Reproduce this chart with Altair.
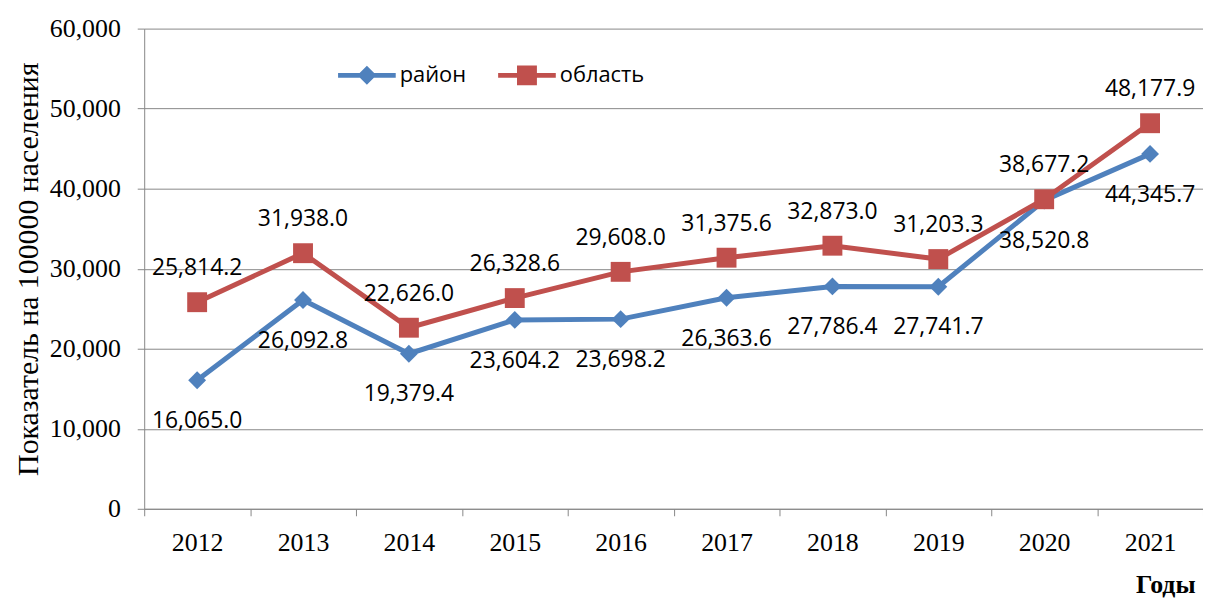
import altair as alt
import pandas as pd

years = ["2012", "2013", "2014", "2015", "2016", "2017", "2018", "2019", "2020", "2021"]
rayon = [16065.0, 26092.8, 19379.4, 23604.2, 23698.2, 26363.6, 27786.4, 27741.7, 38520.8, 44345.7]
oblast = [25814.2, 31938.0, 22626.0, 26328.6, 29608.0, 31375.6, 32873.0, 31203.3, 38677.2, 48177.9]
series_names = ["район", "область"]
y_ticks = [0, 10000, 20000, 30000, 40000, 50000, 60000]

BLUE = "#4F81BD"
RED = "#C0504D"
GRID = "#878787"
SERIF = "Liberation Serif"
SANS = "Open Sans"

rows = []
for y, v in zip(years, rayon):
    rows.append({"year": y, "series": series_names[0], "value": v})
for y, v in zip(years, oblast):
    rows.append({"year": y, "series": series_names[1], "value": v})
df = pd.DataFrame(rows)

# legend glyphs: a line segment with the series marker in the middle
diamond_path = "M-1,-0.085H1V0.085H-1Z M0,-0.33L0.33,0L0,0.33L-0.33,0Z"
square_path = "M-1,-0.085H1V0.085H-1Z M-0.345,-0.345H0.345V0.345H-0.345Z"

x_enc = alt.X(
    "year:O",
    sort=years,
    scale=alt.Scale(type="band", paddingInner=0, paddingOuter=0),
    axis=alt.Axis(
        title="Годы",
        tickBand="extent",
        labelAngle=0,
        labelFont=SERIF,
        labelFontSize=26,
        labelColor="black",
        labelPadding=14,
        tickSize=7,
        tickColor=GRID,
        domainColor=GRID,
        grid=False,
        titleFont=SERIF,
        titleFontSize=26,
        titleFontWeight="bold",
        titleColor="black",
        titleAlign="right",
        titleBaseline="alphabetic",
        titleX=1057,
        titleY=84,
    ),
)
y_enc = alt.Y(
    "value:Q",
    scale=alt.Scale(domain=[0, 60000], nice=False),
    axis=alt.Axis(
        values=y_ticks,
        format=",.0f",
        grid=True,
        gridColor=GRID,
        tickSize=7,
        tickColor=GRID,
        domainColor=GRID,
        labelFont=SERIF,
        labelFontSize=26,
        labelColor="black",
        labelPadding=17,
        title="Показатель на  100000 населения",
        titleFont=SERIF,
        titleFontSize=30,
        titleFontWeight="normal",
        titleColor="black",
        titleX=-116,
        titleBaseline="middle",
    ),
)

base = alt.Chart(df)
blue_data = base.transform_filter(alt.datum.series == series_names[0])
red_data = base.transform_filter(alt.datum.series == series_names[1])

legend = alt.Legend(
    title=None,
    orient="none",
    legendX=195,
    legendY=18,
    direction="horizontal",
    padding=0,
    symbolSize=3364,
    symbolStrokeWidth=0,
    symbolOpacity=1,
    labelFont=SANS,
    labelFontSize=22,
    labelColor="black",
    labelOffset=4,
    columnPadding=32,
)

line_blue = blue_data.mark_line(strokeWidth=5, color=BLUE).encode(x=x_enc, y=y_enc)
line_red = red_data.mark_line(strokeWidth=5, color=RED).encode(x=x_enc, y=y_enc)

# invisible layer that only carries the legend
legend_layer = base.mark_point(filled=True, opacity=0).encode(
    x=x_enc,
    y=y_enc,
    color=alt.Color(
        "series:N",
        sort=series_names,
        scale=alt.Scale(domain=series_names, range=[BLUE, RED]),
        legend=legend,
    ),
    shape=alt.Shape(
        "series:N",
        sort=series_names,
        scale=alt.Scale(domain=series_names, range=[diamond_path, square_path]),
        legend=legend,
    ),
)

pts_blue = blue_data.mark_point(
    shape="diamond", filled=True, size=324, opacity=1, color=BLUE
).encode(x=x_enc, y=y_enc)

pts_red = red_data.mark_point(
    shape="square", filled=True, size=400, opacity=1, color=RED
).encode(x=x_enc, y=y_enc)

txt_blue = blue_data.mark_text(
    dy=41, font=SANS, fontSize=23, color="black"
).encode(x=x_enc, y=y_enc, text=alt.Text("value:Q", format=",.1f"))

txt_red = red_data.mark_text(
    dy=-34, font=SANS, fontSize=23, color="black"
).encode(x=x_enc, y=y_enc, text=alt.Text("value:Q", format=",.1f"))

chart = (
    alt.layer(line_blue, pts_blue, line_red, pts_red, legend_layer, txt_blue, txt_red)
    .properties(
        width=1065,
        height=483,
        autosize=alt.AutoSizeParams(type="none"),
        padding={"left": 137, "top": 19, "right": 0, "bottom": 89},
        background="white",
    )
    .configure_view(stroke=None)
)

chart.save("out.html", embed_options={"renderer": "svg", "actions": False})
